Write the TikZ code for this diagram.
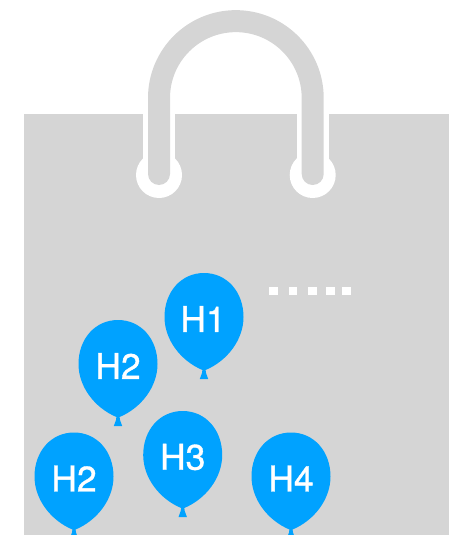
\documentclass[tikz,border=0pt]{standalone}
\usepackage{fontspec}
\setmainfont[FakeBold=1]{TeX Gyre Heros}
\definecolor{bag}{RGB}{213,213,213}
\definecolor{sky}{RGB}{0,162,255}
\tikzset{
  handle/.style={draw=bag,line width=22pt,line cap=round},
  halo/.style={fill=white,draw=none},
  tick/.style={fill=white,draw=none,minimum width=8.4pt,minimum height=8.4pt,inner sep=0pt},
  tag/.style={text=white,inner sep=0pt,font=\fontsize{35.5}{36}\selectfont},
  balloon/.pic={
    \fill[sky] (0,0) .. controls (23,0) and (39.5,19) .. (39.5,44)
      .. controls (39.5,67) and (23,88) .. (1.6,97)
      -- (2,100) -- (4.2,106) -- (-4.2,106) -- (-2,100) -- (-1.6,97)
      .. controls (-23,88) and (-39.5,67) .. (-39.5,44)
      .. controls (-39.5,19) and (-23,0) .. (0,0) -- cycle;
  },
}
\begin{document}
\begin{tikzpicture}[x=1pt,y=-1pt]
\useasboundingbox (0,0) rectangle (457,535);
\fill[bag] (24,114) rectangle (449,535);
% white gaps round the handle
\fill[halo] (142.7,114) rectangle (175.3,175);
\fill[halo] (296.7,114) rectangle (329.3,175);
\fill[halo] (159,175) circle (23);
\fill[halo] (312.7,175) circle (23);
\draw[handle] (159,174) -- (159,98) arc (180:360:76.85) -- (312.7,174);
% balloons
\foreach \px/\py/\tx/\txt/\nm in {204/273/-1/H1/one, 118/320/0/H2/two, 74/432.5/0/H2/twob, 182.7/411/0/H3/three, 291/432.5/0/H4/four}{
  \pic at (\px,\py) {balloon};
  \node[tag] (\nm) at (\px+\tx,\py+46) {\txt};
}
% dots
\foreach \dx/\nm in {273.5/a, 293/b, 312.5/c, 330.5/d, 346.5/e}
  \node[tick] (dot\nm) at (\dx,291) {};
\end{tikzpicture}
\end{document}
